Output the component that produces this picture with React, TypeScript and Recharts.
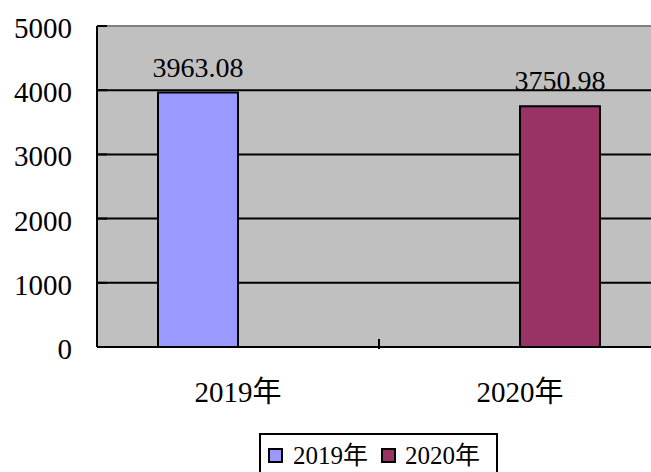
import { BarChart, Bar, XAxis, YAxis, CartesianGrid, Legend, LabelList, ReferenceLine } from 'recharts'

const categories = ['2019年', '2020年']
const values2019 = [3963.08, null]
const values2020 = [null, 3750.98]
const yTicks = [0, 1000, 2000, 3000, 4000, 5000]

const data = categories.map((name, i) => ({
  name,
  v2019: values2019[i],
  v2020: values2020[i],
}))

const FONT = '"Liberation Serif", "Times New Roman", "Noto Sans CJK SC", serif'

const YTick = (props: any) => {
  const { x, y, payload } = props
  return (
    <g>
      {/* ticks point inward, into the plot */}
      <line x1={x + 25} x2={x + 35} y1={y} y2={y} stroke="#000" strokeWidth={2} />
      <text x={x} y={y + 12} textAnchor="end" fontSize={29} fontFamily={FONT} fill="#000">
        {payload.value}
      </text>
    </g>
  )
}

const XTick = (props: any) => {
  const { x, y, payload, index, width, visibleTicksCount } = props
  const band = width / visibleTicksCount
  return (
    <g>
      {index === 0 && (
        <line x1={x + band / 2} x2={x + band / 2} y1={y - 10} y2={y} stroke="#000" strokeWidth={2} />
      )}
      <text x={x} y={y + 53} textAnchor="middle" fontSize={29} fontFamily={FONT} fill="#000">
        {payload.value}
      </text>
    </g>
  )
}

const LegendBox = (props: any) => {
  const { payload } = props
  return (
    <div style={{ display: 'flex', alignItems: 'center', height: 40, paddingLeft: 7 }}>
      {payload.map((p: any, i: number) => (
        <span key={i} style={{ display: 'flex', alignItems: 'center', marginRight: 13 }}>
          <span
            style={{
              display: 'inline-block',
              width: 15,
              height: 15,
              boxSizing: 'border-box',
              background: p.color,
              border: '2px solid #000',
              marginRight: i === 0 ? 10 : 9,
            }}
          />
          <span style={{ fontSize: 25, fontFamily: FONT, color: '#000', lineHeight: '25px' }}>{p.value}</span>
        </span>
      ))}
    </div>
  )
}

export default function App() {
  return (
    <div style={{ position: 'absolute', left: 0, top: 0, width: 651, height: 472, overflow: 'hidden', background: '#fff' }}>
      <BarChart
        width={680}
        height={472}
        data={data}
        margin={{ top: 26, right: 19, left: 0, bottom: 65 }}
        barCategoryGap={61}
        barGap={0}
      >
        <CartesianGrid vertical={false} stroke="#000" strokeWidth={2} fill="#C0C0C0" fillOpacity={1} />
        <ReferenceLine y={5000} stroke="#808080" strokeWidth={2} />
        <XAxis
          dataKey="name"
          height={60}
          axisLine={{ stroke: '#000', strokeWidth: 2 }}
          tickLine={false}
          tickSize={0}
          tick={<XTick />}
          interval={0}
        />
        <YAxis
          width={97}
          domain={[0, 5000]}
          ticks={yTicks}
          axisLine={{ stroke: '#000', strokeWidth: 2 }}
          tickLine={false}
          tickSize={0}
          tickMargin={25}
          tick={<YTick />}
          interval={0}
        />
        <Legend
          layout="horizontal"
          verticalAlign="middle"
          align="center"
          content={<LegendBox />}
          wrapperStyle={{
            left: 259,
            top: 433,
            width: 239,
            height: 60,
            border: '2px solid #000',
            boxSizing: 'border-box',
            background: '#fff',
          }}
        />
        <Bar dataKey="v2019" name="2019年" fill="#9999FF" stroke="#000" strokeWidth={2} barSize={80} isAnimationActive={false}>
          <LabelList
            dataKey="v2019"
            position="top"
            offset={16}
            fontSize={28}
            fontFamily={FONT}
            fill="#000"
            formatter={(v: any) => (v == null ? '' : Number(v).toFixed(2))}
          />
        </Bar>
        <Bar dataKey="v2020" name="2020年" fill="#993366" stroke="#000" strokeWidth={2} barSize={80} isAnimationActive={false}>
          <LabelList
            dataKey="v2020"
            position="top"
            offset={16}
            fontSize={28}
            fontFamily={FONT}
            fill="#000"
            formatter={(v: any) => (v == null ? '' : Number(v).toFixed(2))}
          />
        </Bar>
      </BarChart>
    </div>
  )
}
